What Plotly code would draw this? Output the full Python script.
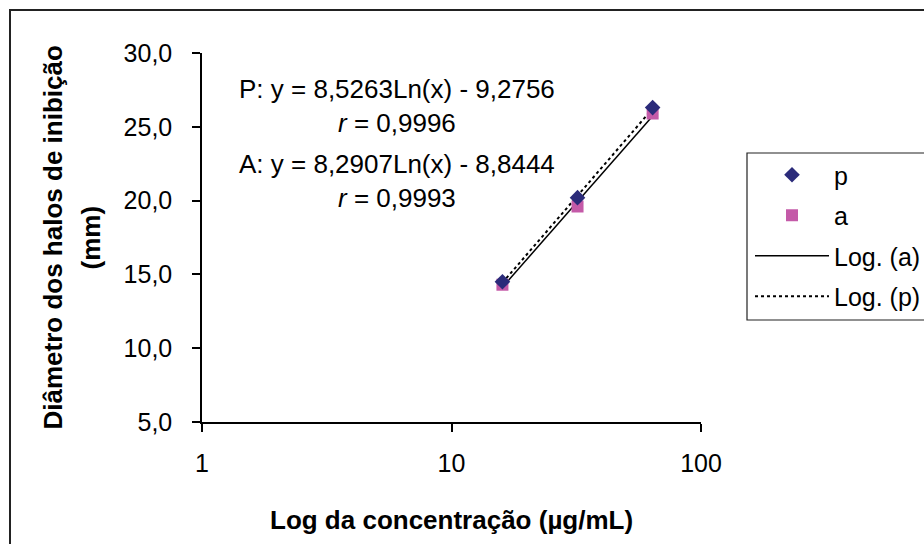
import numpy as np
import plotly.graph_objects as go

# Data
conc = [16, 32, 64]
p_vals = [14.5, 20.2, 26.3]
a_vals = [14.3, 19.6, 25.9]
y_ticks = [5, 10, 15, 20, 25, 30]
y_tick_text = ["5,0", "10,0", "15,0", "20,0", "25,0", "30,0"]
x_ticks = [1, 10, 100]
x_tick_text = ["1", "10", "100"]
eq_lines = ["P: y = 8,5263Ln(x) - 9,2756", "<i>r</i> = 0,9996",
            "A: y = 8,2907Ln(x) - 8,8444", "<i>r</i> = 0,9993"]
y_title_lines = ["<b>Diâmetro dos halos de inibição</b>", "<b>(mm)</b>"]
x_title = "<b>Log da concentração (µg/mL)</b>"

FONT = "Liberation Sans, Arial, sans-serif"

def log_fit(x, y):
    lx = np.log(np.array(x, dtype=float))
    b, c = np.polyfit(lx, np.array(y, dtype=float), 1)
    xs = np.array([min(x), max(x)], dtype=float)
    return xs, b * np.log(xs) + c

xa, ya = log_fit(conc, a_vals)
xp, yp = log_fit(conc, p_vals)

fig = go.Figure()
fig.add_trace(go.Scatter(x=xa, y=ya, mode="lines", name="Log. (a)",
                         line=dict(color="black", width=1.5), legendrank=3, legendgroup="g3"))
fig.add_trace(go.Scatter(x=xp, y=yp, mode="lines", name="Log. (p)",
                         line=dict(color="black", width=2, dash="dot"), legendrank=4, legendgroup="g4"))
fig.add_trace(go.Scatter(x=conc, y=a_vals, mode="markers", name="a",
                         marker=dict(symbol="square", size=12, color="#C45AA8"), legendrank=2, legendgroup="g2"))
fig.add_trace(go.Scatter(x=conc, y=p_vals, mode="markers", name="p",
                         marker=dict(symbol="diamond", size=12, color="#2B2B7A"), legendrank=1, legendgroup="g1"))

L, R, T, B = 202, 223, 53, 122
pw, ph = 924 - L - R, 544 - T - B

def px2paper_x(px):
    return (px - L) / pw

def px2paper_y(py):
    return (544 - B - py) / ph

eq_y = [89, 123, 164, 198]
for txt, yy in zip(eq_lines, eq_y):
    fig.add_annotation(x=px2paper_x(397), y=px2paper_y(yy), xref="paper", yref="paper",
                       text=txt, showarrow=False, xanchor="center", yanchor="middle",
                       font=dict(family=FONT, size=26, color="black"))

# y-axis title (two lines, rotated)
for txt, xx in zip(y_title_lines, [52, 90]):
    fig.add_annotation(x=px2paper_x(xx), y=0.5, xref="paper", yref="paper",
                       text=txt, showarrow=False, textangle=-90,
                       xanchor="center", yanchor="middle",
                       font=dict(family=FONT, size=26, color="black"))

# x-axis title
fig.add_annotation(x=0.5, y=px2paper_y(520), xref="paper", yref="paper",
                   text=x_title, showarrow=False, xanchor="center", yanchor="middle",
                   font=dict(family=FONT, size=26, color="black"))

# outer border
fig.add_shape(type="rect", xref="paper", yref="paper",
              x0=px2paper_x(10), x1=px2paper_x(960), y0=px2paper_y(580), y1=px2paper_y(10),
              line=dict(color="#222", width=2), layer="below")
# legend border
fig.add_shape(type="rect", xref="paper", yref="paper",
              x0=px2paper_x(747), x1=px2paper_x(960), y0=px2paper_y(320), y1=px2paper_y(153),
              line=dict(color="#222", width=1.2), layer="below")

fig.update_layout(
    width=924, height=544,
    margin=dict(l=L, r=R, t=T, b=B, autoexpand=False),
    paper_bgcolor="white", plot_bgcolor="white",
    font=dict(family=FONT, size=25, color="black"),
    showlegend=True,
    legend=dict(x=px2paper_x(750), y=px2paper_y(152), xanchor="left", yanchor="top",
                xref="paper", yref="paper",
                bgcolor="rgba(0,0,0,0)", borderwidth=0, itemwidth=74,
                tracegroupgap=5, font=dict(family=FONT, size=25)),
    xaxis=dict(type="log", range=[0, 2], tickvals=x_ticks, ticktext=x_tick_text,
               showgrid=False, zeroline=False, showline=True, linecolor="black", linewidth=1.5,
               ticks="outside", ticklen=8, tickcolor="black", tickwidth=1.5,
               ticklabelstandoff=10, tickfont=dict(size=25)),
    yaxis=dict(range=[5, 30], tickvals=y_ticks, ticktext=y_tick_text,
               showgrid=False, zeroline=False, showline=True, linecolor="black", linewidth=1.5,
               ticks="outside", ticklen=8, tickcolor="black", tickwidth=1.5,
               ticklabelstandoff=15, tickfont=dict(size=25)),
)

fig.write_html("out.html")
